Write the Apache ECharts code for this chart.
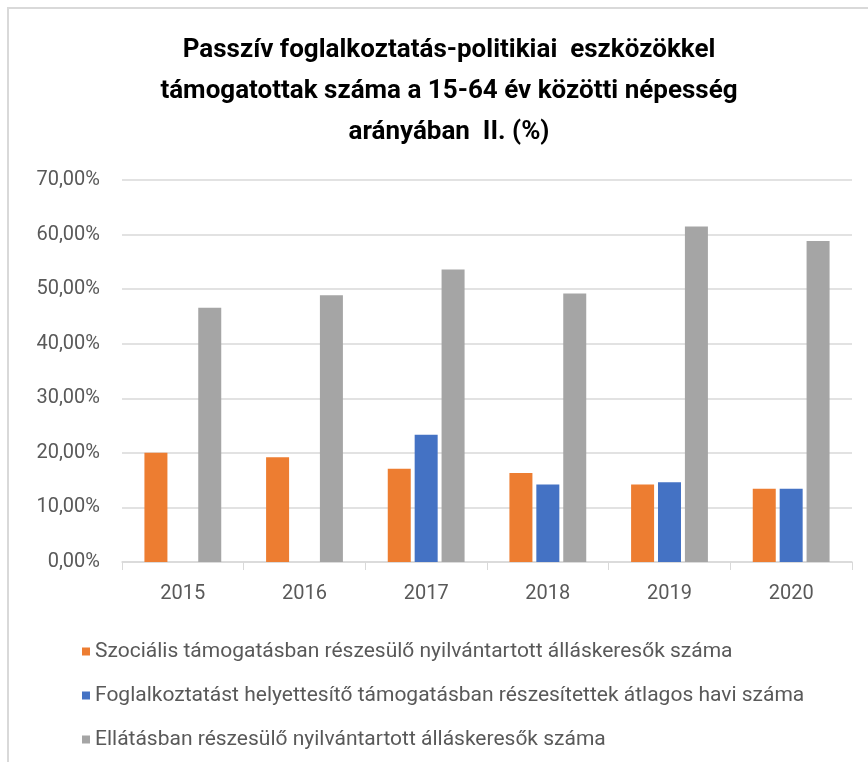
<!DOCTYPE html>
<html>
<head>
<meta charset="utf-8">
<script src="https://cdn.jsdelivr.net/npm/echarts@6/dist/echarts.min.js"></script>
<style>
  html, body { margin: 0; padding: 0; background: #fff; }
  #chart { width: 868px; height: 767px; }
  .frame {
    position: absolute; left: 7px; top: 7px; right: -5px; bottom: 5px;
    border-left: 2px solid #d9d9d9; border-top: 2px solid #d9d9d9;
    pointer-events: none;
  }
</style>
</head>
<body>
<div id="chart"></div>
<div class="frame"></div>
<script>
// 年份
const years = ['2015', '2016', '2017', '2018', '2019', '2020']
// 数据（%）
const szocialis = [20.0, 19.2, 17.1, 16.3, 14.2, 13.4]
const foglalkoztatast = [null, null, 23.3, 14.2, 14.6, 13.4]
const ellatas = [46.6, 48.9, 53.6, 49.2, 61.5, 58.8]
const seriesNames = [
  'Szociális támogatásban részesülő nyilvántartott álláskeresők száma',
  'Foglalkoztatást helyettesítő támogatásban részesítettek átlagos havi száma',
  'Ellátásban részesülő nyilvántartott álláskeresők száma',
]
const yTicks = [0, 10, 20, 30, 40, 50, 60, 70]

const font = '"Roboto", sans-serif'
const chart = echarts.init(document.getElementById('chart'))

// 百分比格式：70,00%
const fmt = v => v.toFixed(2).replace('.', ',') + '%'

chart.setOption({
  animation: false,
  color: ['#ED7D31', '#4472C4', '#A5A5A5'],
  title: {
    text: 'Passzív foglalkoztatás-politikiai  eszközökkel\ntámogatottak száma a 15-64 év közötti népesség\narányában  II. (%)',
    left: 444,
    top: 25,
    textAlign: 'center',
    textStyle: {
      fontFamily: font,
      fontSize: 26,
      fontWeight: 'bold',
      color: '#000',
      lineHeight: 41,
    },
  },
  grid: {
    left: 122,
    right: 16,
    top: 180,
    bottom: 205,
    containLabel: false,
  },
  legend: {
    orient: 'vertical',
    left: 77,
    top: 636,
    itemWidth: 8,
    itemHeight: 8,
    itemGap: 23,
    icon: 'rect',
    textStyle: {
      fontFamily: font,
      fontSize: 21,
      color: '#595959',
    },
    data: seriesNames,
  },
  xAxis: {
    type: 'category',
    data: years,
    axisLine: { lineStyle: { color: '#d9d9d9', width: 1.5 } },
    axisTick: { show: true, length: 8, lineStyle: { color: '#d9d9d9' } },
    axisLabel: {
      fontFamily: font,
      fontSize: 20,
      color: '#595959',
      margin: 22,
    },
  },
  yAxis: {
    type: 'value',
    min: yTicks[0],
    max: yTicks[yTicks.length - 1],
    interval: 10,
    axisLine: { show: false },
    axisTick: { show: false },
    splitLine: { lineStyle: { color: '#d9d9d9', width: 1.5 } },
    axisLabel: {
      fontFamily: font,
      fontSize: 20,
      color: '#595959',
      margin: 22,
      formatter: fmt,
    },
  },
  series: [
    { name: seriesNames[0], type: 'bar', data: szocialis, barWidth: 23, barGap: '17%' },
    { name: seriesNames[1], type: 'bar', data: foglalkoztatast, barWidth: 23, barGap: '17%' },
    { name: seriesNames[2], type: 'bar', data: ellatas, barWidth: 23, barGap: '17%' },
  ],
})
</script>
</body>
</html>
